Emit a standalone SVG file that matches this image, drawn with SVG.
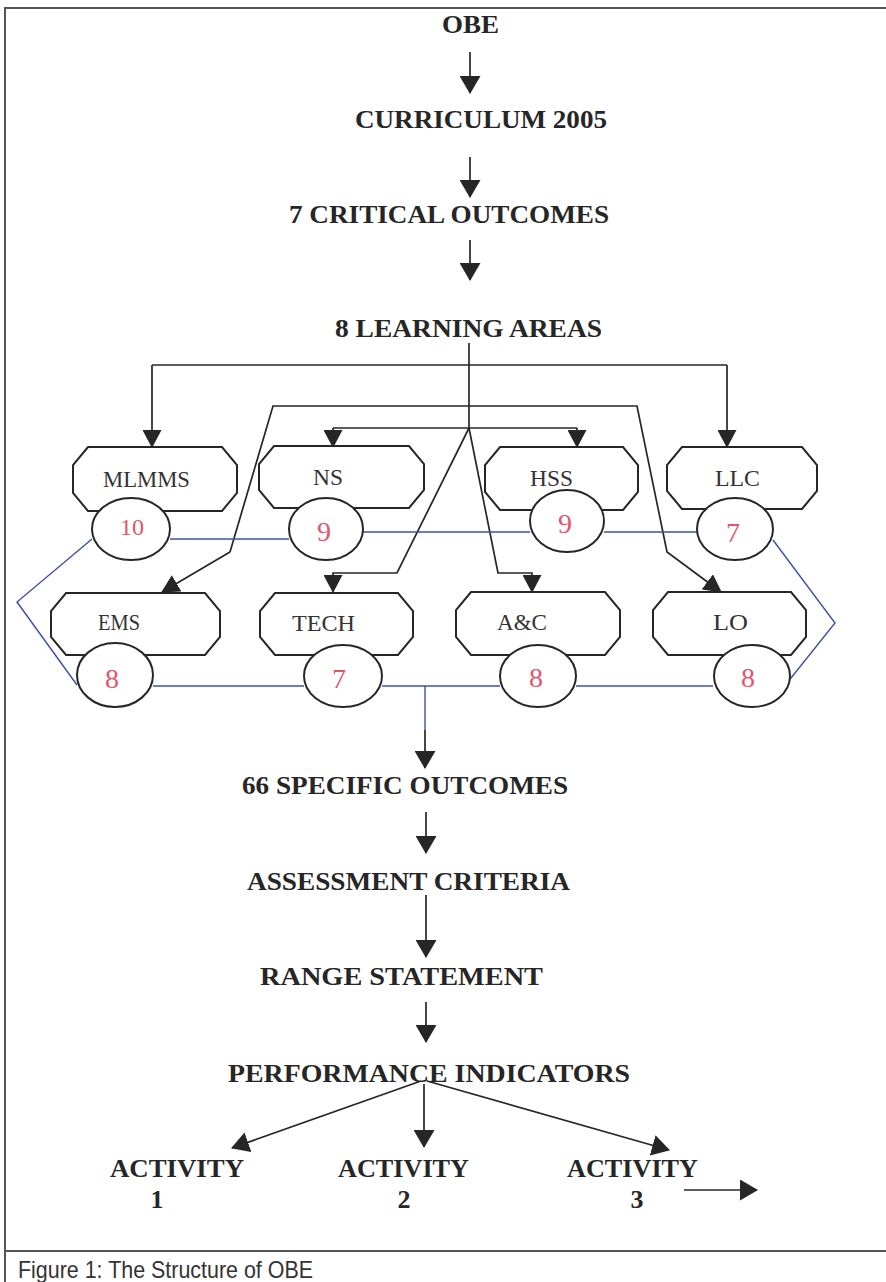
<svg xmlns="http://www.w3.org/2000/svg" width="886" height="1282" viewBox="0 0 886 1282">
<style>
.t{font-family:"Liberation Serif","Times New Roman",serif;font-weight:bold;font-size:26px;fill:#262626}
.n{font-family:"Liberation Serif","Times New Roman",serif;font-size:23px;fill:#333}
.num{font-family:"Liberation Serif","Times New Roman",serif;font-size:28px;fill:#e0566a;text-anchor:middle}
.cap{font-family:"Liberation Sans",Arial,sans-serif;font-size:24px;fill:#333}
.blk{fill:none;stroke:#262626;stroke-width:1.7}
.blue{fill:none;stroke:#3f4fa8;stroke-width:1.4}
.oct{fill:#fff;stroke:#262626;stroke-width:2}
.ell{fill:#fff;stroke:#262626;stroke-width:2}
.frame{stroke:#555;stroke-width:2;fill:none}
</style>
<defs>
<marker id="am" viewBox="0 0 18 21" refX="17" refY="10.5" markerWidth="18" markerHeight="21" markerUnits="userSpaceOnUse" orient="auto"><path d="M0,0 L18,10.5 L0,21 z" fill="#262626"/></marker>
<marker id="an" viewBox="0 0 18 19" refX="17" refY="9.5" markerWidth="18" markerHeight="19" markerUnits="userSpaceOnUse" orient="auto"><path d="M0,0 L18,9.5 L0,19 z" fill="#262626"/></marker>
</defs>
<rect width="886" height="1282" fill="#fff"/>
<g id="frame">
<path class="frame" d="M5,1282 L5,8 L886,8"/>
<path class="frame" d="M5,1251 L886,1251"/>
</g>
<g id="connectors">
<path class="blk" d="M470,52 L470,93" marker-end="url(#am)"/>
<path class="blk" d="M470,157 L470,197" marker-end="url(#am)"/>
<path class="blk" d="M470,240 L470,280" marker-end="url(#am)"/>
<path class="blk" d="M469,343 L469,430"/>
<path class="blk" d="M152,365 L727,365"/>
<path class="blk" d="M152,365 L152,447" marker-end="url(#an)"/>
<path class="blk" d="M727,365 L727,447" marker-end="url(#an)"/>
<path class="blk" d="M333,428 L577,428"/>
<path class="blk" d="M333,428 L333,447" marker-end="url(#an)"/>
<path class="blk" d="M577,428 L577,447" marker-end="url(#an)"/>
<path class="blk" d="M469,428 L397,573 L333,573 L333,592" marker-end="url(#an)"/>
<path class="blk" d="M469,428 L498,573 L532,573 L532,592" marker-end="url(#an)"/>
<path class="blk" d="M230,552 L273,406 L637,406 L667,552 L721,592" marker-end="url(#an)"/>
<path class="blk" d="M230,552 L162,592" marker-end="url(#an)"/>
<path class="blue" d="M170,539 L289,539"/>
<path class="blue" d="M363,532 L530,532"/>
<path class="blue" d="M604,532 L697,532"/>
<path class="blue" d="M773,540 L835,623 L787,683"/>
<path class="blue" d="M92,539 L17,602 L77,685"/>
<path class="blue" d="M153,686 L304,686"/>
<path class="blue" d="M382,686 L500,686"/>
<path class="blue" d="M576,686 L713,686"/>
<path class="blue" d="M425,686 L425,730"/>
<path class="blk" d="M425,730 L425,768" marker-end="url(#am)"/>
<path class="blk" d="M426,812 L426,853" marker-end="url(#am)"/>
<path class="blk" d="M426,895 L426,957" marker-end="url(#am)"/>
<path class="blk" d="M426,1002 L426,1042" marker-end="url(#am)"/>
<path class="blk" d="M424,1084 L424,1147" marker-end="url(#am)"/>
<path class="blk" d="M421,1081 L232,1148" marker-end="url(#am)"/>
<path class="blk" d="M427,1081 L669,1150" marker-end="url(#am)"/>
<path class="blk" d="M684,1190 L757,1190" marker-end="url(#am)"/>
</g>
<g id="obe"><text class="t" x="442" y="33" textLength="57" lengthAdjust="spacingAndGlyphs">OBE</text></g>
<g id="curriculum"><text class="t" x="355" y="128" textLength="252" lengthAdjust="spacingAndGlyphs">CURRICULUM 2005</text></g>
<g id="critical"><text class="t" x="289" y="223" textLength="320" lengthAdjust="spacingAndGlyphs">7 CRITICAL OUTCOMES</text></g>
<g id="learning"><text class="t" x="335" y="337" textLength="267" lengthAdjust="spacingAndGlyphs">8 LEARNING AREAS</text></g>
<g id="mlmms">
<polygon class="oct" points="88,447 222,447 237,465 237,493 222,511 88,511 73,493 73,465"/>
<ellipse class="ell" cx="131" cy="529" rx="39" ry="31"/>
<text class="n" x="103" y="487" textLength="87" lengthAdjust="spacingAndGlyphs">MLMMS</text>
<text class="num" x="132" y="535" style="font-size:24px">10</text>
</g>
<g id="ns">
<polygon class="oct" points="274,446 409,446 424,464 424,490 409,508 274,508 259,490 259,464"/>
<ellipse class="ell" cx="326" cy="529" rx="37" ry="31"/>
<text class="n" x="313" y="485" textLength="30" lengthAdjust="spacingAndGlyphs">NS</text>
<text class="num" x="324" y="541">9</text>
</g>
<g id="hss">
<polygon class="oct" points="500,447 623,447 638,465 638,492 623,510 500,510 485,492 485,465"/>
<ellipse class="ell" cx="567" cy="521" rx="37" ry="31"/>
<text class="n" x="530" y="486" textLength="43" lengthAdjust="spacingAndGlyphs">HSS</text>
<text class="num" x="565" y="533">9</text>
</g>
<g id="llc">
<polygon class="oct" points="682,447 802,447 817,465 817,491 802,509 682,509 667,491 667,465"/>
<ellipse class="ell" cx="735" cy="529" rx="38" ry="31"/>
<text class="n" x="715" y="486" textLength="45" lengthAdjust="spacingAndGlyphs">LLC</text>
<text class="num" x="733" y="542">7</text>
</g>
<g id="ems">
<polygon class="oct" points="66,593 205,593 220,611 220,637 205,655 66,655 51,637 51,611"/>
<ellipse class="ell" cx="115" cy="675" rx="38" ry="32"/>
<text class="n" x="98" y="630" textLength="42" lengthAdjust="spacingAndGlyphs">EMS</text>
<text class="num" x="112" y="688">8</text>
</g>
<g id="tech">
<polygon class="oct" points="275,593 398,593 413,611 413,637 398,655 275,655 260,637 260,611"/>
<ellipse class="ell" cx="343" cy="676" rx="39" ry="31"/>
<text class="n" x="292" y="631" textLength="63" lengthAdjust="spacingAndGlyphs">TECH</text>
<text class="num" x="339" y="688">7</text>
</g>
<g id="ac">
<polygon class="oct" points="471,592 605,592 620,610 620,637 605,655 471,655 456,637 456,610"/>
<ellipse class="ell" cx="538" cy="676" rx="38" ry="31"/>
<text class="n" x="497" y="630" textLength="50" lengthAdjust="spacingAndGlyphs">A&amp;C</text>
<text class="num" x="536" y="687">8</text>
</g>
<g id="lo">
<polygon class="oct" points="668,592 791,592 806,610 806,637 791,655 668,655 653,637 653,610"/>
<ellipse class="ell" cx="752" cy="676" rx="38" ry="31"/>
<text class="n" x="713" y="630" textLength="35" lengthAdjust="spacingAndGlyphs">LO</text>
<text class="num" x="748" y="687">8</text>
</g>
<g id="specific"><text class="t" x="242" y="794" textLength="326" lengthAdjust="spacingAndGlyphs">66 SPECIFIC OUTCOMES</text></g>
<g id="assessment"><text class="t" x="247" y="890" textLength="323" lengthAdjust="spacingAndGlyphs">ASSESSMENT CRITERIA</text></g>
<g id="range"><text class="t" x="260" y="985" textLength="283" lengthAdjust="spacingAndGlyphs">RANGE STATEMENT</text></g>
<g id="performance"><text class="t" x="228" y="1082" textLength="402" lengthAdjust="spacingAndGlyphs">PERFORMANCE INDICATORS</text></g>
<g id="activity1"><text class="t" x="110" y="1177" textLength="134" lengthAdjust="spacingAndGlyphs">ACTIVITY</text><text class="t" x="157" y="1208" text-anchor="middle">1</text></g>
<g id="activity2"><text class="t" x="338" y="1177" textLength="131" lengthAdjust="spacingAndGlyphs">ACTIVITY</text><text class="t" x="404" y="1208" text-anchor="middle">2</text></g>
<g id="activity3"><text class="t" x="567" y="1177" textLength="131" lengthAdjust="spacingAndGlyphs">ACTIVITY</text><text class="t" x="637" y="1208" text-anchor="middle">3</text></g>
<g id="caption"><text class="cap" x="18" y="1278" textLength="295" lengthAdjust="spacingAndGlyphs">Figure 1: The Structure of OBE</text></g>
</svg>
